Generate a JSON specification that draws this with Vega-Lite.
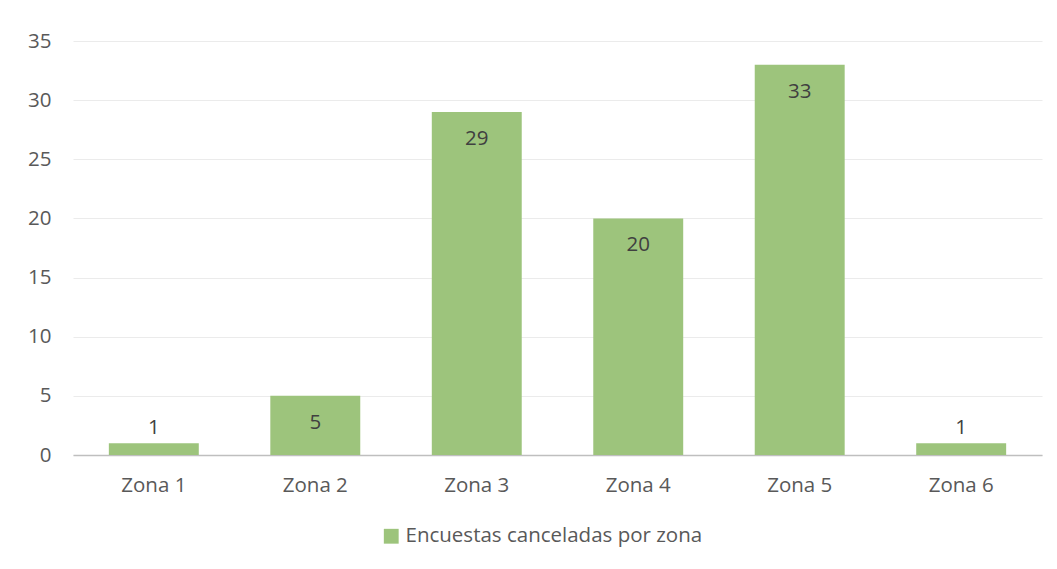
{
  "$schema": "https://vega.github.io/schema/vega-lite/v6.json",
  "width": 969,
  "height": 414,
  "autosize": {"type": "none"},
  "padding": {"left": 73, "top": 41, "right": 15, "bottom": 114},
  "background": "white",
  "config": {
    "view": {"stroke": null},
    "font": "Open Sans"
  },
  "data": {
    "values": [
      {"zona": "Zona 1", "valor": 1, "serie": "Encuestas canceladas por zona"},
      {"zona": "Zona 2", "valor": 5, "serie": "Encuestas canceladas por zona"},
      {"zona": "Zona 3", "valor": 29, "serie": "Encuestas canceladas por zona"},
      {"zona": "Zona 4", "valor": 20, "serie": "Encuestas canceladas por zona"},
      {"zona": "Zona 5", "valor": 33, "serie": "Encuestas canceladas por zona"},
      {"zona": "Zona 6", "valor": 1, "serie": "Encuestas canceladas por zona"}
    ]
  },
  "encoding": {
    "x": {
      "field": "zona", "type": "nominal", "sort": null,
      "scale": {"paddingInner": 0.443, "paddingOuter": 0.222},
      "axis": {
        "title": null, "labelAngle": 0, "ticks": false,
        "domainColor": "#bfbfbf", "domainWidth": 1.5,
        "labelColor": "#595959", "labelFontSize": 20.5, "labelPadding": 20,
        "labelFont": "Open Sans"
      }
    },
    "y": {
      "field": "valor", "type": "quantitative",
      "scale": {"domain": [0, 35]},
      "axis": {
        "title": null, "values": [0, 5, 10, 15, 20, 25, 30, 35],
        "domain": false, "ticks": false,
        "gridColor": "#ebebeb", "gridWidth": 1.2,
        "labelColor": "#595959", "labelFontSize": 20.5, "labelPadding": 22,
        "labelFont": "Open Sans"
      }
    }
  },
  "layer": [
    {
      "mark": {"type": "bar", "color": "#9dc47c"},
      "encoding": {
        "color": {
          "field": "serie", "type": "nominal",
          "scale": {"range": ["#9dc47c"]},
          "legend": {
            "title": null, "orient": "none", "legendX": 308, "legendY": 485,
            "symbolType": "square", "symbolSize": 220, "symbolStrokeWidth": 0,
            "labelFontSize": 20.5, "labelColor": "#595959", "labelFont": "Open Sans",
            "labelOffset": 4, "labelLimit": 0
          }
        }
      }
    },
    {
      "transform": [{"filter": "datum.valor >= 3"}],
      "mark": {"type": "text", "baseline": "middle", "dy": 27, "fontSize": 20.5, "color": "#404040"},
      "encoding": {"text": {"field": "valor", "type": "quantitative"}}
    },
    {
      "transform": [{"filter": "datum.valor < 3"}],
      "mark": {"type": "text", "baseline": "middle", "dy": -15, "fontSize": 20.5, "color": "#404040"},
      "encoding": {"text": {"field": "valor", "type": "quantitative"}}
    }
  ]
}
